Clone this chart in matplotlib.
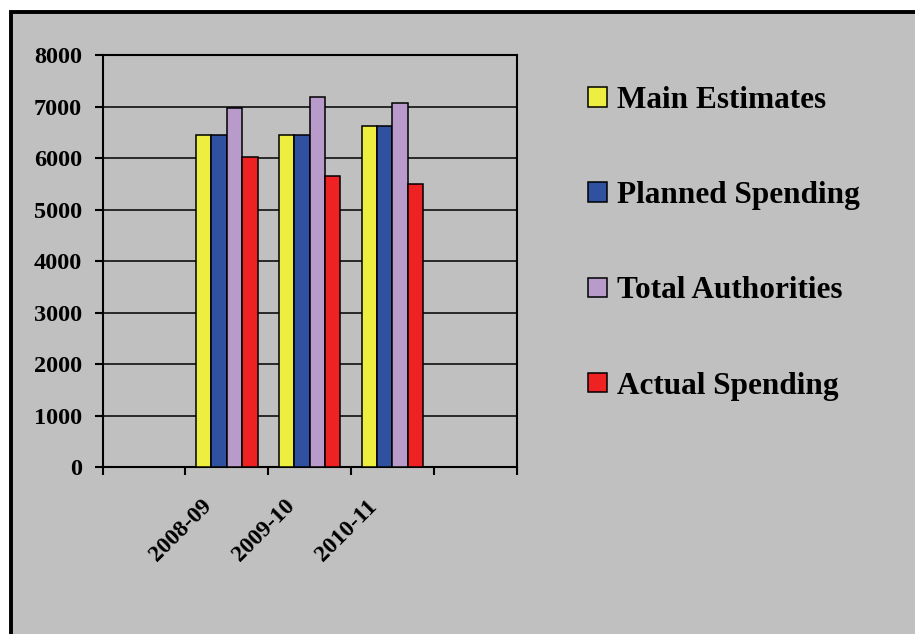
import matplotlib.pyplot as plt
import matplotlib.patches as mpatches
import matplotlib.transforms as mtransforms
import numpy as np

plt.rcParams['font.family'] = ['Liberation Serif', 'DejaVu Serif']
plt.rcParams['font.weight'] = 'bold'

# data (Excel chart has two blank categories at both ends)
categories = ["", "2008-09", "2009-10", "2010-11", ""]
main_estimates = [np.nan, 6440, 6440, 6630, np.nan]
planned_spending = [np.nan, 6440, 6440, 6630, np.nan]
total_authorities = [np.nan, 6980, 7180, 7060, np.nan]
actual_spending = [np.nan, 6020, 5660, 5500, np.nan]

series = [
    ("Main Estimates", main_estimates, "#EEEE40"),
    ("Planned Spending", planned_spending, "#3050A0"),
    ("Total Authorities", total_authorities, "#B89BCA"),
    ("Actual Spending", actual_spending, "#EE2222"),
]

bg = "#C0C0C0"
fig = plt.figure(figsize=(9.15, 6.34), dpi=100, facecolor="white")

# gray chart area with black border on top/left (cut off at right/bottom)
frame = mpatches.Rectangle((11 / 915, -0.05), 1.1, 1 - 11.5 / 634 + 0.05,
                           transform=fig.transFigure, facecolor=bg,
                           edgecolor="black", linewidth=2.8, zorder=-10)
fig.patches.append(frame)

ax = fig.add_axes([0.1122, 0.2634, 0.4525, 0.6498])
ax.set_facecolor(bg)

x = np.arange(len(categories))
w = 0.186
for i, (name, vals, col) in enumerate(series):
    vals = np.array(vals, dtype=float)
    m = ~np.isnan(vals)
    ax.bar(x[m] + (i - 1.5) * w, vals[m], width=w, color=col,
           edgecolor="black", linewidth=1.1, label=name, zorder=3)

ax.set_xlim(-0.5, len(categories) - 0.5)
ax.set_ylim(0, 8000)
ax.set_yticks(np.arange(0, 8001, 1000))
ax.yaxis.grid(True, color="black", linewidth=1.1, zorder=1)
ax.set_axisbelow(True)

ax.set_xticks(x)
ax.set_xticklabels(categories, rotation=45, ha="right", fontsize=17,
                   fontweight="bold")
ax.set_xticks(np.arange(-0.5, len(categories), 1.0), minor=True)
ax.tick_params(axis="x", which="major", length=0, pad=12)
ax.tick_params(axis="x", which="minor", length=6, width=1.5, direction="out")
ax.tick_params(axis="y", length=6, width=1.5, direction="out", pad=9,
               labelsize=17.5)
for lbl in ax.get_yticklabels():
    lbl.set_fontweight("bold")

# nudge rotated year labels left/down like the original
shift = mtransforms.ScaledTranslation(-0.11, -0.12, fig.dpi_scale_trans)
for lbl in ax.xaxis.get_majorticklabels():
    lbl.set_transform(lbl.get_transform() + shift)

for s in ax.spines.values():
    s.set_color("black")
    s.set_linewidth(1.5)

ax.legend(loc="upper left", bbox_to_anchor=(0.626, 0.889),
          bbox_transform=fig.transFigure, frameon=False,
          prop={"family": "Liberation Serif", "weight": "bold", "size": 22.5},
          handlelength=0.58, handleheight=0.58, handletextpad=0.35,
          labelspacing=2.12, borderpad=0)

fig.savefig("out.png", dpi=100, facecolor="white")
